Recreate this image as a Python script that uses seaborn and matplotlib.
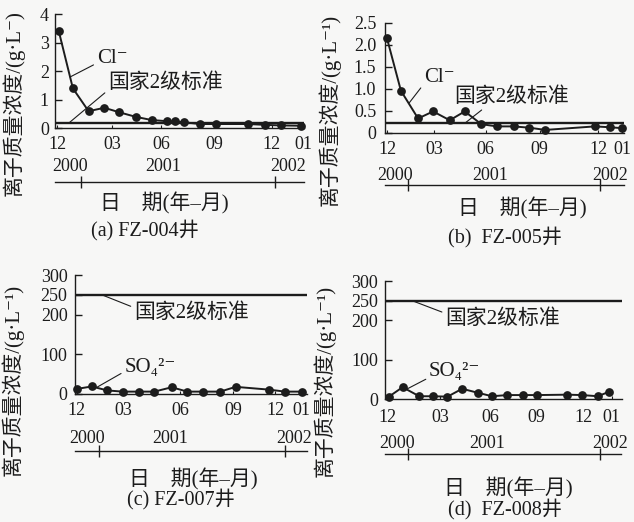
import matplotlib
matplotlib.use('Agg')
import matplotlib.pyplot as plt
import pandas as pd
import seaborn as sns

# ---------------- data ----------------
month_labels = ['12', '03', '06', '09', '12', '01']
year_labels = ['2000', '2001', '2002']

# (a) FZ-004, Cl-
a_months = [0.09, 0.84, 1.67, 2.5, 3.3, 4.17, 5.0, 5.8, 6.24, 6.73, 7.56, 8.4, 10.1, 11.0, 11.83, 12.9]
a_values = [3.42, 1.4, 0.6, 0.72, 0.56, 0.4, 0.29, 0.25, 0.24, 0.21, 0.15, 0.15, 0.15, 0.12, 0.1, 0.09]
a_std = 0.17
a_month_ticks = [0, 2.9, 5.5, 8.3, 11.35, 13]
a_yticks = [0, 1, 2, 3, 4]
a_yticklabels = ['0', '1', '2', '3', '4']

# (b) FZ-005, Cl-
b_months = [0, 0.77, 1.72, 2.55, 3.47, 4.3, 5.22, 6.09, 7.0, 7.88, 8.76, 11.5, 12.36, 13.0]
b_values = [2.15, 0.96, 0.33, 0.49, 0.29, 0.49, 0.2, 0.15, 0.15, 0.12, 0.07, 0.15, 0.13, 0.11]
b_std = 0.22
b_month_ticks = [0, 2.6, 5.45, 8.45, 11.7, 13]
b_yticks = [0, 0.5, 1.0, 1.5, 2.0, 2.5]
b_yticklabels = ['0', '0.5', '1.0', '1.5', '2.0', '2.5']

# (c) FZ-007, SO4 2-
c_months = [0.02, 0.84, 1.73, 2.6, 3.54, 4.41, 5.4, 6.29, 7.2, 8.16, 9.05, 10.95, 11.86, 12.85]
c_values = [13, 19, 9, 6, 6, 6, 17, 6, 6, 6, 18, 11, 6, 6]
c_std = 250
c_month_ticks = [0, 2.66, 5.88, 8.92, 11.3, 12.8]
c_yticks = [0, 100, 200, 250, 300]
c_yticklabels = ['0', '100', '200', '250', '300']

# (d) FZ-008, SO4 2-
d_months = [0.11, 0.87, 1.8, 2.55, 3.38, 4.2, 5.06, 5.87, 6.73, 7.57, 8.4, 10.07, 10.9, 11.78, 12.38]
d_values = [6, 30, 7, 7, 6, 26, 16, 7, 10, 10, 10, 11, 10, 7, 18]
d_std = 250
d_month_ticks = [0, 2.97, 5.76, 8.36, 10.97, 12.55]
d_yticks = [0, 100, 200, 250, 300]
d_yticklabels = ['0', '100', '200', '250', '300']

captions = ['(a) FZ-004井', '(b)  FZ-005井', '(c) FZ-007井', '(d)  FZ-008井']
ion_labels = ['Cl⁻', 'Cl⁻', 'SO₄²⁻', 'SO₄²⁻']
std_label = '国家2级标准'
ylabel_a = '离子质量浓度/(g·L⁻)'
ylabel = '离子质量浓度/(g·L⁻¹)'
xlabel = '日\u3000期(年–月)'

# ---------------- style ----------------
sns.set_theme(style='ticks')
plt.rcParams['font.family'] = ['Liberation Serif', 'DejaVu Serif', 'Noto Sans CJK SC']
plt.rcParams['axes.unicode_minus'] = False
INK = '#1c1c1c'
BG = '#f7f7f6'

W, H = 634, 522
fig = plt.figure(figsize=(W / 100, H / 100), dpi=100, facecolor=BG)

def fx(x):
    return x / W

def fy(y):
    return 1 - y / H

panels = [
    dict(m=a_months, v=a_values, std=a_std, mt=a_month_ticks, yt=a_yticks, ytl=a_yticklabels, ylim=(0, 4),
         rect=[fx(55.1), fy(128.3), fx(249), 114 / H], xlim=(-0.1, 13.05),
         bounds=[1.28, 11.5], ypos=[0.67, 5.62, 12.2], bar=-0.471, ypad=5.0,
         ylab=ylabel_a, ylab_xy=(13, 103), xlab_xy=(164, 203), cap_xy=(145, 230),
         ion_txt=(2.1, 2.45), ion_xy=(0.69, 1.8), ion_rel=(0, 0.25),
         std_txt=(2.7, 1.58), std_xy=(0.6, a_std), std_rel=(0, 0.15), mpad=5.5, lpad=4.5),
    dict(m=b_months, v=b_values, std=b_std, mt=b_month_ticks, yt=b_yticks, ytl=b_yticklabels, ylim=(0, 2.5),
         rect=[fx(385.2), fy(133), fx(238.6), 110 / H], xlim=(-0.1, 13.1),
         bounds=[1.14, 11.77], ypos=[0.46, 5.7, 12.36], bar=-0.473, ypad=1.0,
         ylab=ylabel, ylab_xy=(329, 110), xlab_xy=(522, 208), cap_xy=(505, 237),
         ion_txt=(2.05, 1.25), ion_xy=(1.2, 0.67), ion_rel=(0, 0.2),
         std_txt=(3.7, 0.82), std_xy=(4.3, b_std), std_rel=(0.3, 0.1), mpad=5.5, lpad=6.5),
    dict(m=c_months, v=c_values, std=c_std, mt=c_month_ticks, yt=c_yticks, ytl=c_yticklabels, ylim=(0, 300),
         rect=[fx(75.2), fy(394), fx(231.6), 119 / H], xlim=(-0.1, 13.1),
         bounds=[1.27, 11.86], ypos=[0.6, 5.3, 12.4], bar=-0.48, ypad=3.0,
         ylab=ylabel, ylab_xy=(12, 380), xlab_xy=(193, 479), cap_xy=(181, 499),
         ion_txt=(2.7, 66), ion_xy=(1.14, 17), ion_rel=(0, 0.3),
         std_txt=(3.25, 203), std_xy=(1.42, c_std), std_rel=(0, 0.8), mpad=5.5, lpad=5.5),
    dict(m=d_months, v=d_values, std=d_std, mt=d_month_ticks, yt=d_yticks, ytl=d_yticklabels, ylim=(0, 300),
         rect=[fx(385.2), fy(399), fx(236.3), 118 / H], xlim=(-0.1, 13.1),
         bounds=[1.2, 11.9], ypos=[0.56, 5.58, 12.45], bar=-0.466, ypad=1.5,
         ylab=ylabel, ylab_xy=(324, 381), xlab_xy=(508, 488), cap_xy=(505, 509),
         ion_txt=(2.35, 69), ion_xy=(1.1, 25), ion_rel=(0, 0.2),
         std_txt=(3.25, 203), std_xy=(1.4, d_std), std_rel=(0, 0.8), mpad=7.0, lpad=5.0),
]

FS_NUM = 13
FS_TXT = 15
for i, p in enumerate(panels):
    ax = fig.add_axes(p['rect'])
    ax.set_facecolor('none')
    df = pd.DataFrame({'month': p['m'], 'value': p['v']})
    ax.axhline(p['std'], color=INK, lw=1.7, zorder=2)
    sns.lineplot(data=df, x='month', y='value', ax=ax, color=INK, lw=1.4,
                 marker='o', markersize=6.3, markeredgewidth=0, clip_on=False, zorder=3)
    ax.set_xlim(*p['xlim'])
    ax.set_ylim(*p['ylim'])
    ax.set_xticks(p['mt'], labels=month_labels)
    ax.set_yticks(p['yt'], labels=p['ytl'])
    sns.despine(ax=ax)
    for s in ('left', 'bottom'):
        ax.spines[s].set_color(INK)
        ax.spines[s].set_linewidth(1.0)
    ax.tick_params(axis='y', direction='in', length=5, width=1, color=INK,
                   labelsize=FS_NUM, labelcolor=INK, pad=p['lpad'])
    ax.tick_params(axis='x', direction='in', length=2.5, width=0.8, color=INK,
                   labelsize=FS_NUM, labelcolor=INK, pad=p['mpad'])
    ax.grid(False)

    # year bar
    sec = ax.secondary_xaxis(p['bar'])
    sec.set_alignment('top')
    sec.set_ticks(p['bounds'], labels=['', ''])
    sec.set_ticks(p['ypos'], labels=year_labels, minor=True)
    sec.tick_params(which='major', direction='inout', length=8, width=1, color=INK)
    sec.tick_params(which='minor', length=0, pad=p['ypad'], labelsize=FS_NUM, labelcolor=INK)
    sec.spines['top'].set_color(INK)
    sec.spines['top'].set_linewidth(1.0)
    sec.set_facecolor('none')

    # axis labels
    ax.set_xlabel(xlabel, fontsize=FS_TXT, color=INK, va='center')
    ax.xaxis.set_label_coords(fx(p['xlab_xy'][0]), fy(p['xlab_xy'][1]), transform=fig.transFigure)
    ax.set_ylabel(p['ylab'], fontsize=FS_TXT, color=INK, va='center')
    ax.yaxis.set_label_coords(fx(p['ylab_xy'][0]), fy(p['ylab_xy'][1]), transform=fig.transFigure)
    fig.text(fx(p['cap_xy'][0]), fy(p['cap_xy'][1]), captions[i], fontsize=FS_TXT - 0.5, color=INK,
             ha='center', va='center')

    # annotations
    ax.annotate(ion_labels[i], xy=p['ion_xy'], xytext=p['ion_txt'], fontsize=FS_TXT,
                color=INK, ha='left', va='center',
                arrowprops=dict(arrowstyle='-', lw=0.8, color=INK, shrinkA=0, shrinkB=0,
                                relpos=p['ion_rel']))
    ax.annotate(std_label, xy=p['std_xy'], xytext=p['std_txt'], fontsize=FS_TXT,
                color=INK, ha='left', va='center',
                arrowprops=dict(arrowstyle='-', lw=0.8, color=INK, shrinkA=0, shrinkB=0,
                                relpos=p['std_rel']))

fig.savefig('out.png', dpi=100, facecolor=BG)
